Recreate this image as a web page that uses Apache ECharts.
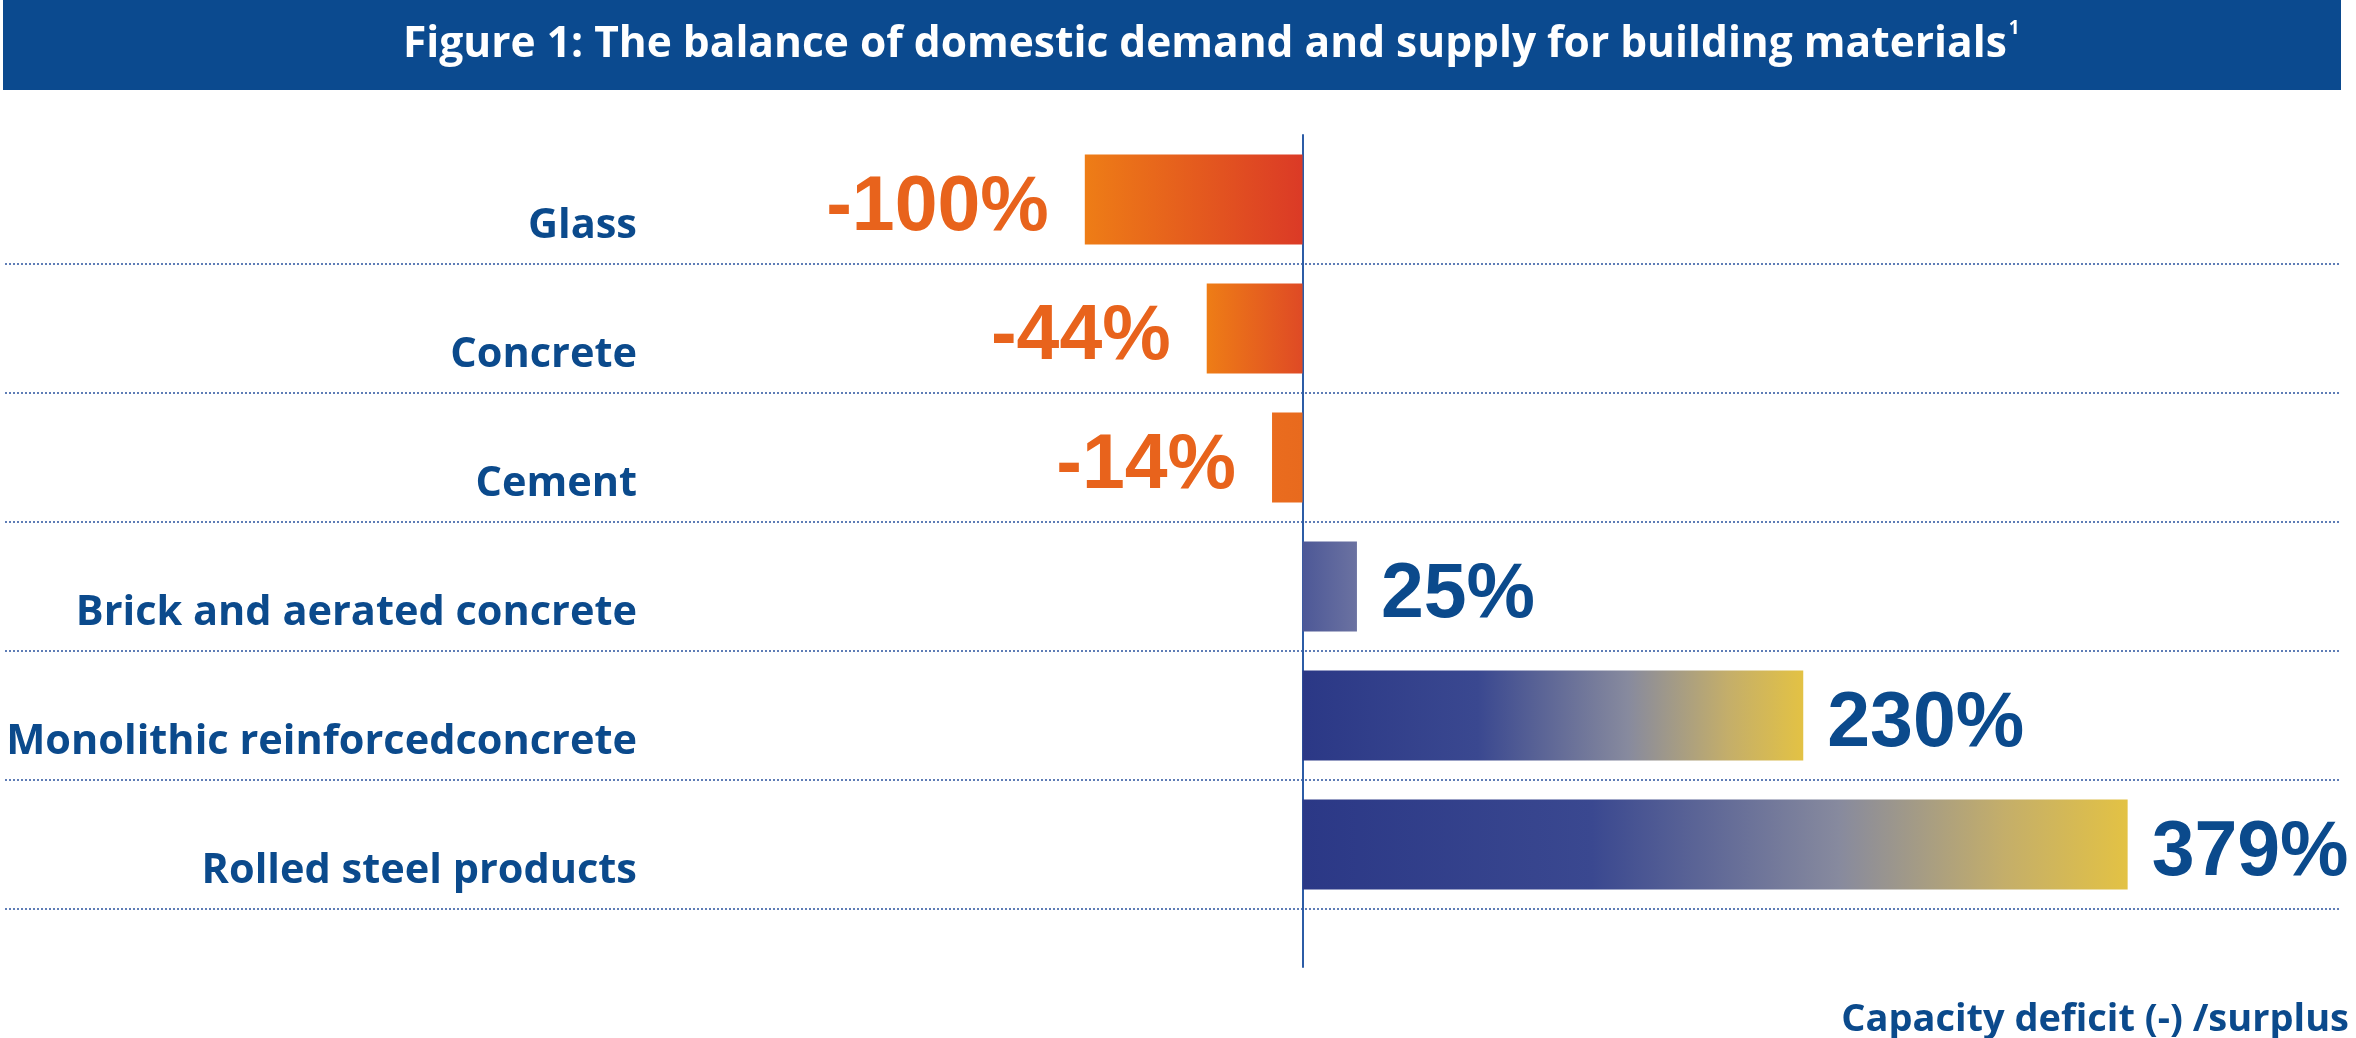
<!DOCTYPE html>
<html>
<head>
<meta charset="utf-8">
<script src="https://cdn.jsdelivr.net/npm/echarts@6/dist/echarts.min.js"></script>
<style>
html,body{margin:0;padding:0;background:#fff;}
#chart{width:2356px;height:1038px;}
</style>
</head>
<body>
<div id="chart"></div>
<script>
const categories = ['Glass', 'Concrete', 'Cement', 'Brick and aerated concrete', 'Monolithic reinforcedconcrete', 'Rolled steel products'];
const values = [-100, -44, -14, 25, 230, 379];
const titleText = 'Figure 1: The balance of domestic demand and supply for building materials';
const titleNote = '1';
const axisCaption = 'Capacity deficit (-) /surplus';

const NAVY = '#0b4a8c';
const ORANGE = '#e8631c';
const PX_PER_UNIT = 2336 / 1073;
const ZERO_X = 1302.5;

function barColor(v) {
  if (v < 0) {
    const t = Math.min(1, -v / 100);
    const right = t > 0.5 ? '#db3a26' : (t > 0.2 ? '#df4a25' : '#e86a1e');
    const left = t > 0.2 ? '#ee7d16' : '#ea6c1e';
    return new echarts.graphic.LinearGradient(0, 0, 1, 0, [
      { offset: 0, color: left }, { offset: 1, color: right }
    ]);
  }
  if (v < 100) {
    return new echarts.graphic.LinearGradient(0, 0, 1, 0, [
      { offset: 0, color: '#4d5897' }, { offset: 1, color: '#6b72a1' }
    ]);
  }
  return new echarts.graphic.LinearGradient(0, 0, 1, 0, [
    { offset: 0, color: '#2b3886' },
    { offset: 0.35, color: '#3a4890' },
    { offset: 0.65, color: '#878a9e' },
    { offset: 0.85, color: '#c4ae6a' },
    { offset: 1, color: '#e3c244' }
  ]);
}

const chart = echarts.init(document.getElementById('chart'), null, { renderer: 'canvas' });

const mainLeft = 650;
const mainMin = -(ZERO_X - mainLeft) / PX_PER_UNIT;

const option = {
  animation: false,
  backgroundColor: '#ffffff',
  graphic: [
    { type: 'rect', z: 0, shape: { x: 3, y: 0, width: 2338, height: 90 }, style: { fill: '#0b4a8f' } }
  ],
  title: [
    {
      z: 10,
      text: '{t|' + titleText + '}{s|' + titleNote + '}',
      left: 398,
      top: 14,
      textStyle: {
        rich: {
          t: { fontFamily: 'Open Sans', fontWeight: 'bold', fontSize: 42.5, color: '#ffffff', lineHeight: 52 },
          s: { fontFamily: 'Open Sans', fontWeight: 'bold', fontSize: 19, color: '#ffffff', lineHeight: 52, verticalAlign: 'top', padding: [0, 0, 20, 2] }
        }
      }
    },
    {
      text: axisCaption,
      right: 2,
      top: 996,
      textStyle: { fontFamily: 'Open Sans', fontWeight: 'bold', fontSize: 38, color: NAVY }
    }
  ],
  grid: [
    { left: mainLeft, right: 15, top: 135, bottom: 129, outerBoundsMode: 'none', containLabel: false },
    { left: 5, right: 15, top: 135, bottom: 129, outerBoundsMode: 'none', containLabel: false },
    { left: 5, right: 15, top: 135, bottom: 71, outerBoundsMode: 'none', containLabel: false }
  ],
  xAxis: [
    { gridIndex: 0, type: 'value', min: mainMin, max: 477, show: false },
    { gridIndex: 1, type: 'value', min: -596, max: 477, show: false },
    { gridIndex: 2, type: 'value', min: -596, max: 477, show: false }
  ],
  yAxis: [
    {
      gridIndex: 0,
      type: 'category',
      inverse: true,
      position: 'left',
      data: categories,
      axisLine: { show: false, onZero: false },
      axisTick: { show: false },
      axisLabel: {
        show: true,
        interval: 0,
        margin: 13,
        align: 'right',
        formatter: function (v) { return '{c|' + v + '}'; },
        rich: {
          c: {
            fontFamily: 'Open Sans',
            fontWeight: 'bold',
            fontSize: 41.5,
            color: NAVY,
            lineHeight: 50,
            padding: [54, 0, 0, 0]
          }
        }
      },
      splitLine: { show: false }
    },
    {
      gridIndex: 1,
      type: 'category',
      inverse: true,
      data: categories,
      axisLine: { show: false },
      axisTick: { show: false },
      axisLabel: { show: false },
      splitLine: {
        show: true,
        interval: function (index) { return index > 0; },
        lineStyle: { color: '#5f7db6', width: 2, type: [2, 2] }
      }
    },
    {
      gridIndex: 2,
      type: 'value',
      min: 0,
      max: 1,
      axisLine: { show: true, onZero: true, lineStyle: { color: '#2c5ca6', width: 2 } },
      axisTick: { show: false },
      axisLabel: { show: false },
      splitLine: { show: false }
    }
  ],
  series: [
    {
      type: 'bar',
      xAxisIndex: 0,
      yAxisIndex: 0,
      barWidth: 90,
      z: 3,
      data: values.map(function (v) {
        return {
          value: v,
          itemStyle: { color: barColor(v) },
          label: {
            position: v < 0 ? 'left' : 'right',
            distance: v < 0 ? 36 : 24,
            color: v < 0 ? ORANGE : NAVY
          }
        };
      }),
      label: {
        show: true,
        offset: [0, 9],
        fontFamily: 'Liberation Sans',
        fontWeight: 'bold',
        fontSize: 77,
        formatter: function (p) { return p.value + '%'; }
      }
    }
  ]
};
chart.setOption(option);
</script>
</body>
</html>
